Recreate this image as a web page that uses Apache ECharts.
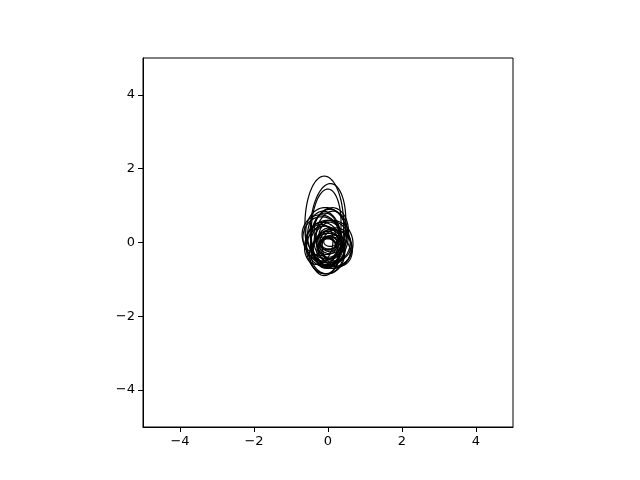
<!DOCTYPE html>
<html>
<head>
<meta charset="utf-8">
<script src="https://cdn.jsdelivr.net/npm/echarts@6/dist/echarts.min.js"></script>
<style>
html, body { margin: 0; padding: 0; background: #fff; }
#main { width: 640px; height: 480px; }
</style>
</head>
<body>
<div id="main"></div>
<script>
// ellipse centres, full widths, full heights, rotation (deg)
var ellX = [-0.10, 0.00, -0.05, -0.05, 0.05, -0.15, 0.10, 0.00, -0.08, 0.12, -0.20, 0.05, 0.00, -0.05, 0.08, 0.15, -0.12, 0.02, 0.00, -0.05, 0.05, 0.10, -0.10, 0.20, 0.00, -0.02, 0.03, 0.00, 0.06, -0.10, 0.10, 0.25, -0.25];
var ellY = [0.45, 0.45, 0.40, 0.25, 0.15, 0.10, -0.05, 0.00, -0.20, -0.15, 0.20, 0.30, -0.30, 0.05, -0.10, -0.25, -0.05, 0.10, -0.15, 0.00, 0.15, -0.20, -0.35, -0.05, 0.05, -0.10, 0.00, -0.05, 0.02, 0.15, 0.20, -0.15, -0.05];
var ellW = [1.05, 0.95, 0.80, 1.10, 1.00, 1.05, 1.15, 1.20, 1.00, 1.05, 1.00, 0.85, 0.90, 0.80, 0.75, 0.90, 0.95, 0.70, 0.80, 0.65, 0.60, 0.70, 0.80, 0.85, 0.55, 0.50, 0.45, 0.40, 0.35, 0.90, 0.85, 0.80, 0.75];
var ellH = [2.70, 2.30, 2.10, 1.40, 1.60, 1.20, 1.30, 1.20, 1.30, 1.00, 1.10, 1.20, 1.10, 1.50, 1.00, 0.90, 1.20, 1.00, 0.80, 0.90, 0.80, 0.70, 1.00, 0.90, 0.50, 0.45, 0.35, 0.30, 0.25, 1.40, 1.30, 1.00, 1.10];
var ellA = [0, -4, -3, 5, -8, 10, -5, 0, 8, -10, 5, 0, -6, 3, 12, -3, 7, 0, -4, 6, 0, -8, 3, 10, 0, 5, 0, -5, 0, 4, -6, 15, -12];

var tickVals = [-4, -2, 0, 2, 4];

var data = [];
for (var i = 0; i < ellX.length; i++) {
    data.push([ellX[i], ellY[i], ellW[i], ellH[i], ellA[i]]);
}

function fmt(v) {
    return v < 0 ? '\u2212' + Math.abs(v) : String(v);
}

var axisCommon = {
    min: -5,
    max: 5,
    interval: 2,
    axisLine: { show: true, onZero: false, lineStyle: { color: '#000', width: 1 } },
    axisTick: { show: true, inside: false, length: 5, lineStyle: { color: '#000' }, customValues: tickVals },
    axisLabel: {
        color: '#000', fontSize: 13, fontFamily: 'DejaVu Sans',
        customValues: tickVals,
        formatter: fmt
    },
    splitLine: { show: false }
};

var myChart = echarts.init(document.getElementById('main'));
var option = {
    animation: false,
    backgroundColor: '#fff',
    grid: { left: 143, right: 127, top: 58, bottom: 53, show: true, borderColor: '#000', borderWidth: 1, backgroundColor: 'transparent' },
    xAxis: Object.assign({ type: 'value', position: 'bottom' }, axisCommon),
    yAxis: Object.assign({ type: 'value', position: 'left' }, axisCommon),
    series: [{
        type: 'custom',
        data: data,
        clip: true,
        renderItem: function (params, api) {
            var cx = api.value(0), cy = api.value(1);
            var rx = api.value(2) / 2, ry = api.value(3) / 2;
            var a = api.value(4) * Math.PI / 180;
            var pts = [];
            for (var k = 0; k <= 72; k++) {
                var t = k / 72 * Math.PI * 2;
                var px = rx * Math.cos(t), py = ry * Math.sin(t);
                pts.push(api.coord([cx + px * Math.cos(a) - py * Math.sin(a), cy + px * Math.sin(a) + py * Math.cos(a)]));
            }
            return {
                type: 'polygon',
                shape: { points: pts },
                style: { fill: 'none', stroke: '#000', lineWidth: 1.2 }
            };
        }
    }]
};
myChart.setOption(option);
window.onresize = function () { myChart.resize(); };
</script>
</body>
</html>
